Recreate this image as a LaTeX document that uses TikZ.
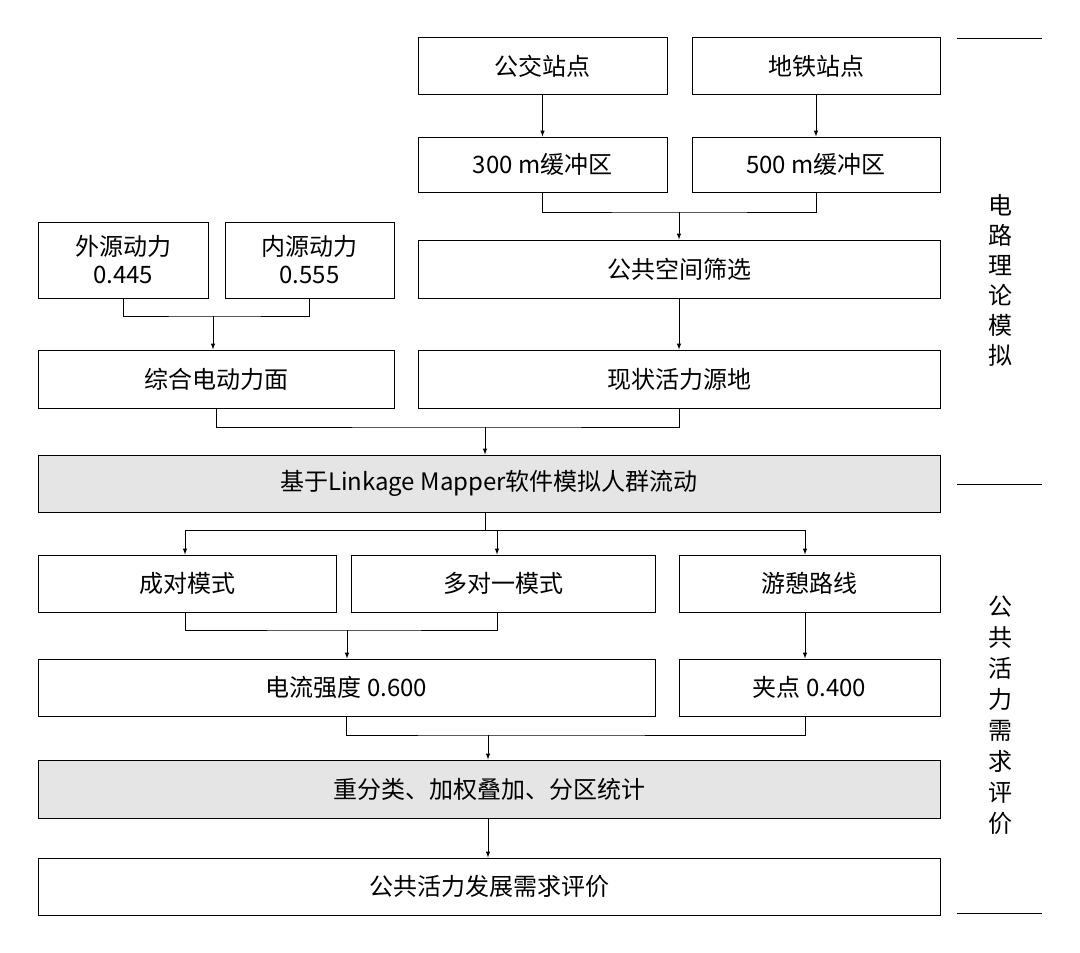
\documentclass[tikz,border=0pt]{standalone}
\usepackage{fontspec}
\setmainfont{Noto Sans CJK SC}
\usetikzlibrary{positioning}
\tikzset{
  box/.style={draw, line width=1pt, minimum height=57pt, inner sep=0pt, font=\fontsize{24}{28}\selectfont},
  graybox/.style={box, fill=black!10},
  link/.style={line width=1pt},
  arr/.style={line width=1pt, ->, >=latex}
}
\begin{document}
\begin{tikzpicture}[x=1pt, y=-1pt]
\useasboundingbox (0,0) rectangle (1080,953);
% top row
\node[box, minimum width=249pt] (bus) at (542.5,66) {公交站点};
\node[box, minimum width=248pt] (metro) at (816,66) {地铁站点};
\node[box, minimum width=249pt, minimum height=55pt] (buf3) at (542.5,164.5) {300 m缓冲区};
\node[box, minimum width=248pt, minimum height=55pt] (buf5) at (816,164.5) {500 m缓冲区};
\node[box, minimum width=170pt, minimum height=76pt, align=center] (ext) at (123,260) {外源动力\\0.445};
\node[box, minimum width=169pt, minimum height=76pt, align=center] (int) at (309.5,260) {内源动力\\0.555};
\node[box, minimum width=522pt, minimum height=58pt] (space) at (679,269) {公共空间筛选};
\node[box, minimum width=356pt, minimum height=58pt] (force) at (216,379) {综合电动力面};
\node[box, minimum width=522pt, minimum height=58pt] (src) at (679,379) {现状活力源地};
\node[graybox, minimum width=902pt] (lm) at (489,483.5) {基于Linkage Mapper软件模拟人群流动};
% middle row
\node[box, minimum width=298pt] (pair) at (187,583.5) {成对模式};
\node[box, minimum width=304pt] (many) at (503,583.5) {多对一模式};
\node[box, minimum width=261pt] (route) at (809.5,583.5) {游憩路线};
\node[box, minimum width=617pt] (cur) at (346.5,687.5) {电流强度 0.600};
\node[box, minimum width=261pt] (pin) at (809.5,687.5) {夹点 0.400};
\node[graybox, minimum width=902pt, minimum height=58pt] (stat) at (489,789) {重分类、加权叠加、分区统计};
\node[box, minimum width=902pt] (eval) at (489,886.5) {公共活力发展需求评价};
% connectors
\draw[arr] (bus) -- (buf3);
\draw[arr] (metro) -- (buf5);
\draw[link] (buf3.south) |- (679,212) -| (buf5.south);
\draw[arr] (679,212) -- (space);
\draw[link] (ext.south) |- (213,316) -| (int.south);
\draw[arr] (213,316) -- (force.north -| 213,0);
\draw[arr] (space) -- (src);
\draw[link] (force.south) |- (485,427) -| (src.south);
\draw[arr] (485,427) -- (lm.north -| 485,0);
\draw[link] (lm.south -| 485,0) -- (485,530);
\draw[link] (185,530) -- (805,530);
\draw[arr] (185,530) -- (pair.north -| 185,0);
\draw[arr] (497,530) -- (many.north -| 497,0);
\draw[arr] (805,530) -- (route.north -| 805,0);
\draw[link] (pair.south -| 185,0) |- (347,630) -| (many.south -| 497,0);
\draw[arr] (347,630) -- (cur.north -| 347,0);
\draw[arr] (route.south -| 805,0) -- (pin.north -| 805,0);
\draw[link] (cur.south) |- (488,735) -| (pin.south -| 805,0);
\draw[arr] (488,735) -- (stat.north -| 488,0);
\draw[arr] (stat.south -| 488,0) -- (eval.north -| 488,0);
% side labels
\coordinate (m1) at (957,38);
\coordinate (m2) at (957,484);
\coordinate (m3) at (957,913);
\draw[link] (m1) -- ++(85,0);
\draw[link] (m2) -- ++(85,0);
\draw[link] (m3) -- ++(85,0);
\node[align=center, font=\fontsize{24}{30}\selectfont] (circ) at (1000,280) {电\\路\\理\\论\\模\\拟};
\node[align=center, font=\fontsize{24}{31}\selectfont] (need) at (1000,715) {公\\共\\活\\力\\需\\求\\评\\价};
\end{tikzpicture}
\end{document}
